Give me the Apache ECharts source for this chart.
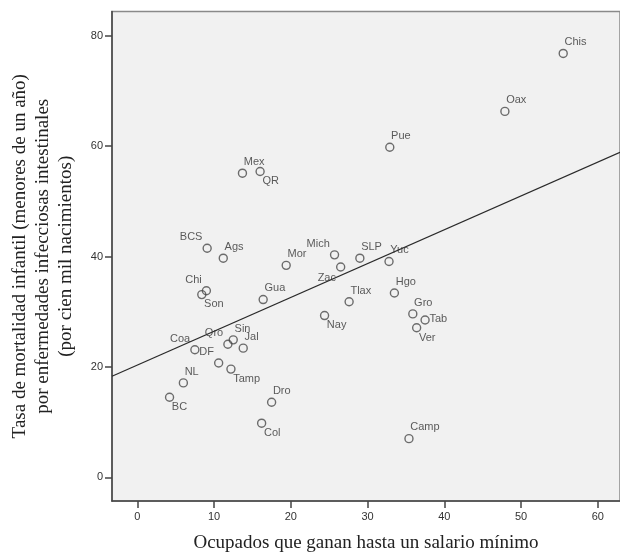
<!DOCTYPE html>
<html>
<head>
<meta charset="utf-8">
<script src="https://cdn.jsdelivr.net/npm/echarts@6/dist/echarts.min.js"></script>
<style>
html,body{margin:0;padding:0;background:#fff;}
#chart{width:620px;height:558px;}
</style>
</head>
<body>
<div id="chart"></div>
<script>
// ---- data ----
const states = ['Chis','Oax','Pue','Mex','QR','BCS','Ags','Mor','Mich','Zac','SLP','Yuc','Chi','Son','Gua','Tlax','Nay','Hgo','Gro','Tab','Ver','Sin','Qro','Jal','Coa','DF','Tamp','NL','BC','Dro','Col','Camp'];
const salarioMinimo = [55.5,47.9,32.9,13.7,16.0,9.1,11.2,19.4,25.7,26.5,29.0,32.8,9.0,8.4,16.4,27.6,24.4,33.5,35.9,37.5,36.4,12.5,11.8,13.8,7.5,10.6,12.2,6.0,4.2,17.5,16.2,35.4];
const mortalidad = [76.8,66.3,59.8,55.1,55.4,41.5,39.7,38.4,40.3,38.1,39.7,39.1,33.8,33.1,32.2,31.8,29.3,33.4,29.6,28.5,27.1,24.9,24.1,23.4,23.1,20.7,19.6,17.1,14.5,13.6,9.8,7.0];
// fitted line endpoints
const fitX = [-3.3, 62.9];
const fitY = [18.3, 58.9];
const xTicks = [0,10,20,30,40,50,60];
const yTicks = [0,20,40,60,80];

// ---- label placement (style only) ----
const labelPlace = {
  Chis:'tr',Oax:'tr',Pue:'tr',Mex:'tr',QR:'br',BCS:'tl',Ags:'tr',Mor:'tr',Mich:'tl',Zac:'bl',
  SLP:'tr',Yuc:'tr',Chi:'tl',Son:'br',Gua:'tr',Tlax:'tr',Nay:'br',Hgo:'tr',Gro:'tr',Tab:'r',
  Ver:'br',Sin:'tr',Qro:'tl',Jal:'tr',Coa:'tl',DF:'tl',Tamp:'br',NL:'tr',BC:'br',Dro:'tr',Col:'br',Camp:'tr'
};
const placeStyle = {
  tr:{position:[6,-1],align:'left',verticalAlign:'bottom'},
  br:{position:[7,9],align:'left',verticalAlign:'top'},
  tl:{position:[0,-1],align:'right',verticalAlign:'bottom'},
  bl:{position:[0,10],align:'right',verticalAlign:'top'},
  r:{position:[9,4],align:'left',verticalAlign:'middle'}
};

const pts = states.map((s,i)=>({
  name:s,
  value:[salarioMinimo[i], mortalidad[i]],
  label:Object.assign({show:true}, placeStyle[labelPlace[s]])
}));

const chart = echarts.init(document.getElementById('chart'), null, {renderer:'canvas'});
const tickFont = {fontFamily:'Liberation Sans, Arial, sans-serif', fontSize:11, color:'#333'};
chart.setOption({
  animation:false,
  backgroundColor:'#ffffff',
  grid:{left:112, right:-2, top:11.5, bottom:54.7, show:true, backgroundColor:'#f1f1f1', borderColor:'#8a8a8a', borderWidth:1.5, containLabel:false},
  xAxis:{
    type:'value', min:-3.3, max:62.9, interval:10,
    name:'Ocupados que ganan hasta un salario mínimo',
    nameLocation:'middle', nameGap:33,
    nameTextStyle:{fontFamily:'Liberation Serif, serif', fontSize:19, color:'#222'},
    axisLine:{show:true, onZero:false, lineStyle:{color:'#444', width:1.5}},
    axisTick:{show:true, length:7, lineStyle:{color:'#444', width:1.5}, customValues:xTicks},
    axisLabel:Object.assign({margin:10, customValues:xTicks}, tickFont),
    splitLine:{show:false}
  },
  yAxis:{
    type:'value', min:-4.3, max:84.4, interval:20,
    name:'Tasa de mortalidad infantil (menores de un año)\npor enfermedades infecciosas intestinales\n(por cien mil nacimientos)',
    nameLocation:'middle', nameGap:34, nameRotate:90,
    nameTextStyle:{fontFamily:'Liberation Serif, serif', fontSize:19, color:'#222', lineHeight:23, align:'center'},
    axisLine:{show:true, onZero:false, lineStyle:{color:'#444', width:1.5}},
    axisTick:{show:true, length:7, lineStyle:{color:'#444', width:1.5}, customValues:yTicks},
    axisLabel:Object.assign({margin:9, customValues:yTicks}, tickFont),
    splitLine:{show:false}
  },
  series:[
    {
      type:'line',
      data:fitX.map((x,i)=>[x, fitY[i]]),
      showSymbol:false, symbol:'none',
      lineStyle:{color:'#2a2a2a', width:1.3},
      silent:true, z:1
    },
    {
      type:'scatter',
      data:pts,
      symbol:'circle', symbolSize:8,
      itemStyle:{color:'rgba(0,0,0,0)', borderColor:'#4a4a4a', borderWidth:1.4},
      label:{show:true, formatter:'{b}', fontFamily:'Liberation Sans, Arial, sans-serif', fontSize:11, color:'#333'},
      z:2
    }
  ]
});
</script>
</body>
</html>
